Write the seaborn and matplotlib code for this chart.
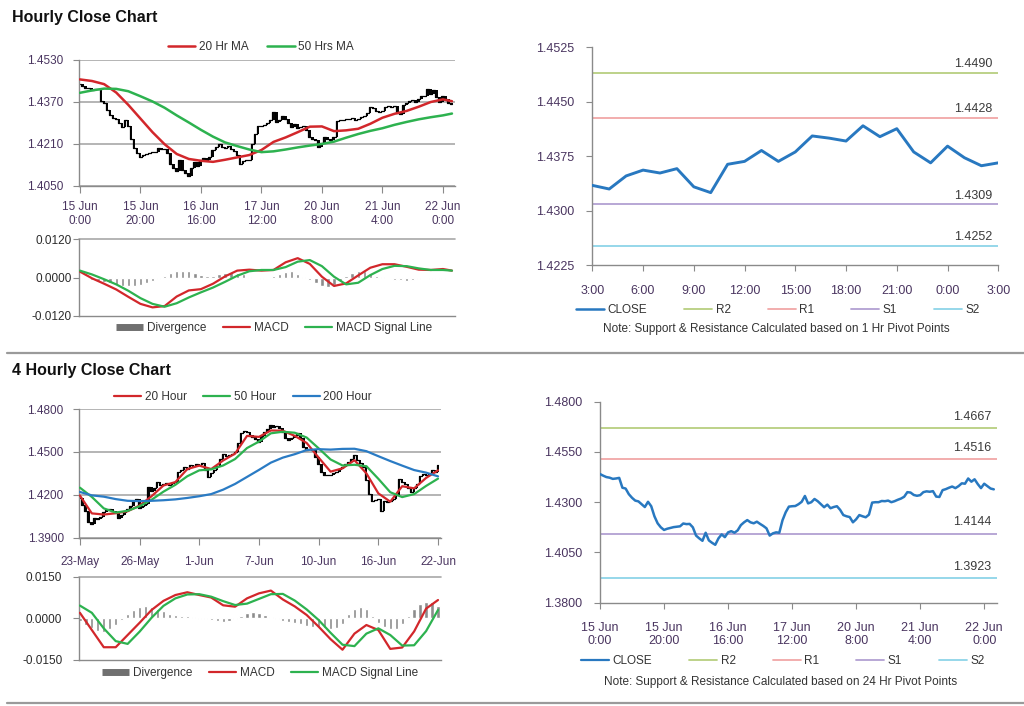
import numpy as np
import matplotlib
matplotlib.use("Agg")
import matplotlib.pyplot as plt
from matplotlib.lines import Line2D
import seaborn as sns

sns.set_style("white")
plt.rcParams["font.family"] = ["Liberation Sans", "DejaVu Sans"]

# ----------------------------
# Hourly closes, 15 Jun 0:00 -> 22 Jun ~3:00 (one value per bar)
# ----------------------------
hourly_close = [
    1.4440, 1.4432, 1.4425, 1.4422, 1.4416, 1.4418, 1.4421, 1.4372, 1.4368, 1.4340,
    1.4322, 1.4308, 1.4304, 1.4290, 1.4276, 1.4302, 1.4280, 1.4230, 1.4195, 1.4175,
    1.4162, 1.4168, 1.4172, 1.4176, 1.4178, 1.4180, 1.4194, 1.4191, 1.4192, 1.4175,
    1.4134, 1.4120, 1.4108, 1.4148, 1.4110, 1.4098, 1.4088, 1.4120, 1.4140, 1.4126,
    1.4150, 1.4156, 1.4148, 1.4160, 1.4186, 1.4200, 1.4211, 1.4200, 1.4195, 1.4203,
    1.4192, 1.4182, 1.4170, 1.4134, 1.4145, 1.4150, 1.4148, 1.4210, 1.4250, 1.4278,
    1.4280, 1.4281, 1.4290, 1.4302, 1.4331, 1.4294, 1.4300, 1.4316, 1.4305, 1.4290,
    1.4275, 1.4288, 1.4270, 1.4276, 1.4280, 1.4262, 1.4236, 1.4230, 1.4226, 1.4200,
    1.4215, 1.4236, 1.4230, 1.4225, 1.4238, 1.4298, 1.4300, 1.4300, 1.4306, 1.4305,
    1.4308, 1.4300, 1.4305, 1.4312, 1.4318, 1.4327, 1.4350, 1.4348, 1.4336, 1.4332,
    1.4335, 1.4350, 1.4354, 1.4352, 1.4355, 1.4328, 1.4326, 1.4360, 1.4365, 1.4372,
    1.4378, 1.4370, 1.4380, 1.4394, 1.4392, 1.4418, 1.4402, 1.4414, 1.4390, 1.4370,
    1.4392, 1.4380, 1.4368, 1.4364,
]
hourly_ticks = ["15 Jun\n0:00", "15 Jun\n20:00", "16 Jun\n16:00", "17 Jun\n12:00",
                "20 Jun\n8:00", "21 Jun\n4:00", "22 Jun\n0:00"]

# moving averages / MACD read every 4 bars
hourly_ma_bar = [0, 4, 8, 12, 16, 20, 24, 28, 32, 36, 40, 44, 48, 52, 56, 60,
                 64, 68, 72, 76, 80, 84, 88, 92, 96, 100, 104, 108, 112, 116, 120, 123]
ma20_hr = [1.4456, 1.4450, 1.4438, 1.4406, 1.4359, 1.4307, 1.4255, 1.4209, 1.4172, 1.4153,
           1.4146, 1.4142, 1.4150, 1.4159, 1.4168, 1.4187, 1.4218, 1.4235, 1.4255, 1.4276,
           1.4277, 1.4259, 1.4262, 1.4268, 1.4287, 1.4310, 1.4325, 1.4336, 1.4352, 1.4370,
           1.4380, 1.4373]
ma50_hr = [1.4405, 1.4414, 1.4421, 1.4420, 1.4411, 1.4392, 1.4372, 1.4348, 1.4319, 1.4292,
           1.4264, 1.4238, 1.4216, 1.4202, 1.4189, 1.4179, 1.4182, 1.4189, 1.4197, 1.4204,
           1.4210, 1.4219, 1.4234, 1.4248, 1.4260, 1.4270, 1.4283, 1.4294, 1.4304, 1.4312,
           1.4319, 1.4326]
macd_hr = [0.0019, -0.0002, -0.0019, -0.0037, -0.0060, -0.0082, -0.0093, -0.0089, -0.0059, -0.0040,
           -0.0036, -0.0019, 0.0004, 0.0022, 0.0025, 0.0022, 0.0024, 0.0048, 0.0061, 0.0043,
           0.0003, -0.0026, -0.0018, 0.0007, 0.0031, 0.0042, 0.0042, 0.0034, 0.0025, 0.0024,
           0.0027, 0.0022]
signal_hr = [0.0022, 0.0010, -0.0005, -0.0021, -0.0041, -0.0064, -0.0082, -0.0091, -0.0080, -0.0062,
             -0.0046, -0.0031, -0.0013, 0.0006, 0.0020, 0.0024, 0.0024, 0.0033, 0.0050, 0.0055,
             0.0036, 0.0003, -0.0021, -0.0016, 0.0008, 0.0027, 0.0037, 0.0036, 0.0029, 0.0024,
             0.0024, 0.0022]
# divergence read every 2 bars
diverg_hr = [-0.0003, -0.0005, -0.0006, -0.0010, -0.0014, -0.0018, -0.0022, -0.0025, -0.0027, -0.0026,
             -0.0022, -0.0016, -0.0010, -0.0004, 0.0004, 0.0014, 0.0020, 0.0022, 0.0020, 0.0014,
             0.0008, 0.0004, 0.0006, 0.0012, 0.0016, 0.0018, 0.0016, 0.0010, 0.0002, -0.0002,
             -0.0003, -0.0002, 0.0004, 0.0012, 0.0018, 0.0020, 0.0012, 0.0002, -0.0008, -0.0018,
             -0.0026, -0.0030, -0.0022, -0.0010, 0.0004, 0.0014, 0.0020, 0.0022, 0.0014, 0.0006,
             0.0002, -0.0002, -0.0006, -0.0008, -0.0010, -0.0006, -0.0003, -0.0002, -0.0003, -0.0004,
             -0.0003, -0.0002]

# ----------------------------
# 4-hourly closes, 23 May -> 22 Jun
# ----------------------------
h4_close = [
    1.4180, 1.4130, 1.4090, 1.4010, 1.3995, 1.4035, 1.4030, 1.4045, 1.4080, 1.4095,
    1.4100, 1.4090, 1.4078, 1.4040, 1.4060, 1.4078, 1.4100, 1.4120, 1.4160, 1.4172,
    1.4110, 1.4120, 1.4137, 1.4254, 1.4230, 1.4245, 1.4289, 1.4270, 1.4277, 1.4280,
    1.4272, 1.4285, 1.4290, 1.4359, 1.4370, 1.4395, 1.4380, 1.4406, 1.4400, 1.4418,
    1.4410, 1.4420, 1.4371, 1.4324, 1.4350, 1.4371, 1.4400, 1.4453, 1.4488, 1.4470,
    1.4480, 1.4488, 1.4500, 1.4559, 1.4629, 1.4645, 1.4641, 1.4620, 1.4605, 1.4590,
    1.4570, 1.4610, 1.4641, 1.4660, 1.4688, 1.4675, 1.4680, 1.4670, 1.4641, 1.4600,
    1.4582, 1.4594, 1.4610, 1.4629, 1.4600, 1.4535, 1.4512, 1.4520, 1.4516, 1.4465,
    1.4418, 1.4359, 1.4336, 1.4340, 1.4336, 1.4350, 1.4359, 1.4380, 1.4395, 1.4418,
    1.4430, 1.4453, 1.4477, 1.4441, 1.4420, 1.4395, 1.4301, 1.4207, 1.4160, 1.4165,
    1.4172, 1.4090, 1.4160, 1.4150, 1.4160, 1.4172, 1.4200, 1.4313, 1.4290, 1.4277,
    1.4250, 1.4219, 1.4250, 1.4277, 1.4330, 1.4348, 1.4340, 1.4348, 1.4371, 1.4360,
    1.4406,
]
h4_ticks = ["23-May", "26-May", "1-Jun", "7-Jun", "10-Jun", "16-Jun", "22-Jun"]

h4_ma_bar = [0, 4, 8, 12, 16, 20, 24, 28, 32, 36, 40, 44, 48, 52, 56, 60,
             64, 68, 72, 76, 80, 84, 88, 92, 96, 100, 104, 108, 112, 116, 120]
ma20_h4 = [1.4195, 1.4070, 1.4062, 1.4071, 1.4085, 1.4125, 1.4190, 1.4265, 1.4289, 1.4380,
           1.4404, 1.4380, 1.4440, 1.4488, 1.4612, 1.4605, 1.4650, 1.4648, 1.4612, 1.4562,
           1.4460, 1.4362, 1.4385, 1.4442, 1.4350, 1.4210, 1.4152, 1.4260, 1.4245, 1.4318,
           1.4371]
ma50_h4 = [1.4250, 1.4185, 1.4105, 1.4076, 1.4088, 1.4120, 1.4165, 1.4222, 1.4270, 1.4330,
           1.4371, 1.4378, 1.4405, 1.4450, 1.4527, 1.4572, 1.4630, 1.4641, 1.4634, 1.4600,
           1.4525, 1.4447, 1.4405, 1.4410, 1.4400, 1.4312, 1.4218, 1.4184, 1.4205, 1.4262,
           1.4313]
ma200_h4 = [1.4220, 1.4196, 1.4187, 1.4170, 1.4158, 1.4156, 1.4158, 1.4162, 1.4168, 1.4178,
            1.4190, 1.4205, 1.4236, 1.4276, 1.4325, 1.4374, 1.4425, 1.4460, 1.4484, 1.4513,
            1.4519, 1.4516, 1.4521, 1.4522, 1.4505, 1.4470, 1.4436, 1.4404, 1.4373, 1.4355,
            1.4329]
macd_h4 = [0.0020, -0.0042, -0.0104, -0.0104, -0.0060, -0.0016, 0.0030, 0.0063, 0.0084, 0.0094,
           0.0084, 0.0075, 0.0047, 0.0042, 0.0072, 0.0090, 0.0100, 0.0068, 0.0043, 0.0012,
           -0.0030, -0.0075, -0.0113, -0.0055, -0.0024, -0.0042, -0.0110, -0.0105, -0.0047, 0.0035,
           0.0066]
signal_h4 = [0.0046, 0.0020, -0.0036, -0.0082, -0.0092, -0.0048, 0.0002, 0.0045, 0.0072, 0.0086,
             0.0087, 0.0078, 0.0062, 0.0048, 0.0053, 0.0070, 0.0087, 0.0088, 0.0064, 0.0032,
             -0.0006, -0.0052, -0.0095, -0.0100, -0.0055, -0.0036, -0.0060, -0.0098, -0.0097, -0.0046,
             0.0030]
diverg_h4 = [-0.0010, -0.0025, -0.0035, -0.0045, -0.0050, -0.0040, -0.0025, -0.0005, 0.0015, 0.0030,
             0.0040, 0.0045, 0.0042, 0.0035, 0.0025, 0.0015, 0.0012, 0.0010, 0.0008, 0.0005,
             -0.0002, -0.0004, -0.0006, -0.0010, -0.0012, -0.0008, -0.0004, 0.0008, 0.0018, 0.0022,
             0.0020, 0.0012, 0.0004, -0.0004, -0.0008, -0.0012, -0.0018, -0.0022, -0.0026, -0.0030,
             -0.0032, -0.0036, -0.0040, -0.0035, -0.0020, 0.0015, 0.0035, 0.0042, 0.0035, 0.0010,
             -0.0015, -0.0030, -0.0040, -0.0038, -0.0020, 0.0010, 0.0035, 0.0050, 0.0058, 0.0060,
             0.0045]

# ----------------------------
# 1 Hr pivot chart (last 24 hours)
# ----------------------------
pivot1_close = [1.4335, 1.4330, 1.4348, 1.4356, 1.4352, 1.4358, 1.4333, 1.4325, 1.4364, 1.4368,
                1.4383, 1.4368, 1.4381, 1.4403, 1.4400, 1.4396, 1.4417, 1.4402, 1.4413, 1.4381,
                1.4366, 1.4389, 1.4373, 1.4362, 1.4366]
pivot1_ticks = ["3:00", "6:00", "9:00", "12:00", "15:00", "18:00", "21:00", "0:00", "3:00"]
pivot1_levels = {"R2": 1.4490, "R1": 1.4428, "S1": 1.4309, "S2": 1.4252}
pivot24_levels = {"R2": 1.4667, "R1": 1.4516, "S1": 1.4144, "S2": 1.3923}

# ----------------------------
# Styling
# ----------------------------
W, H = 1024, 706
RED = "#d2272b"
GREEN = "#2db24f"
BLUE = "#2a7bc4"
CLOSE_BLUE = "#2878c0"
GREY_BAR = "#8c8c8c"
AXIS = "#8a8a8a"
GRID = "#a8a8a8"
TICK_PRICE = "#4a3560"
TICK_MACD = "#2b2b2b"
LEVEL_COLORS = {"R2": "#b7cf80", "R1": "#f1a7a7", "S1": "#b2a0d2", "S2": "#8ed4e8"}

fig = plt.figure(figsize=(W / 100, H / 100), dpi=100)


def axes_px(left, top, right, bottom):
    return fig.add_axes([left / W, 1 - bottom / H, (right - left) / W, (bottom - top) / H])


def base_style(ax, size, color, xpad, ypad, xlen=5):
    sns.despine(ax=ax)
    for s in ["left", "bottom"]:
        ax.spines[s].set_color(AXIS)
        ax.spines[s].set_linewidth(1.0)
    ax.tick_params(axis="y", direction="out", length=4, width=0.8, color=AXIS,
                   labelsize=size, labelcolor=color, pad=ypad, left=True)
    ax.tick_params(axis="x", direction="out", length=xlen, width=0.8, color=AXIS,
                   labelsize=size, labelcolor=color, pad=xpad, bottom=True)
    ax.set_xlabel("")
    ax.set_ylabel("")
    ax.set_facecolor("white")


def price_bars(ax, close):
    # hourly bars: each bar spans previous close -> close, with the close trace on top
    x = np.arange(1, len(close))
    c = np.asarray(close)
    ax.vlines(x, np.minimum(c[:-1], c[1:]), np.maximum(c[:-1], c[1:]), color="black", lw=1.4, zorder=2)
    sns.lineplot(x=np.arange(len(close)), y=close, ax=ax, color="black", lw=0.9,
                 drawstyle="steps-mid", legend=False, zorder=2)


def fmt4(vals):
    return [f"{v:.4f}" for v in vals]


def div_handle():
    return Line2D([], [], color="#707070", lw=5, solid_capstyle="butt", label="Divergence")


# ----------------------------
# 1) Hourly close chart (top left)
# ----------------------------
ax1 = axes_px(79, 60, 455, 186)
price_bars(ax1, hourly_close)
sns.lineplot(x=hourly_ma_bar, y=ma20_hr, ax=ax1, color=RED, lw=1.8, legend=False, zorder=3)
sns.lineplot(x=hourly_ma_bar, y=ma50_hr, ax=ax1, color=GREEN, lw=1.8, legend=False, zorder=3)
ax1.set_xlim(-0.3, 124)
ax1.set_ylim(1.4050, 1.4530)
yt = [1.4050, 1.4210, 1.4370, 1.4530]
ax1.set_yticks(yt, fmt4(yt))
ax1.set_xticks(range(0, 121, 20), hourly_ticks, linespacing=1.15)
ax1.yaxis.grid(True, color=GRID, lw=1.2)
ax1.set_axisbelow(True)
base_style(ax1, 8.5, TICK_PRICE, 6, 7)

fig.legend(handles=[Line2D([], [], color=RED, lw=1.8, label="20 Hr MA"),
                    Line2D([], [], color=GREEN, lw=1.8, label="50 Hrs MA")],
           loc="center", bbox_to_anchor=(261 / W, 1 - 47 / H), ncol=2, frameon=False,
           fontsize=8.5, handlelength=2.3, handletextpad=0.3, columnspacing=1.6,
           labelcolor="#333333")

# MACD (hourly)
ax2 = axes_px(79, 239.3, 455, 316)
ax2.bar(np.arange(0, 2 * len(diverg_hr), 2), diverg_hr, width=1.1, color=GREY_BAR, zorder=2)
sns.lineplot(x=hourly_ma_bar, y=macd_hr, ax=ax2, color=RED, lw=1.6, legend=False, zorder=3)
sns.lineplot(x=hourly_ma_bar, y=signal_hr, ax=ax2, color=GREEN, lw=1.6, legend=False, zorder=3)
ax2.set_xlim(-0.3, 124)
ax2.set_ylim(-0.012, 0.012)
yt = [-0.012, 0.0, 0.012]
ax2.set_yticks(yt, fmt4(yt))
ax2.set_xticks([])
ax2.axhline(0.012, color=GRID, lw=1.2, clip_on=False, zorder=1)
base_style(ax2, 8.5, TICK_MACD, 4, 1, xlen=0)

fig.legend(handles=[div_handle(),
                    Line2D([], [], color=RED, lw=1.6, label="MACD"),
                    Line2D([], [], color=GREEN, lw=1.6, label="MACD Signal Line")],
           loc="center", bbox_to_anchor=(274 / W, 1 - 328 / H), ncol=3, frameon=False,
           fontsize=8.5, handlelength=2.3, handletextpad=0.3, columnspacing=1.4,
           labelcolor="#333333")


# ----------------------------
# Pivot charts (right side)
# ----------------------------
def pivot_chart(ax, x, close, levels, lw_close, label_dy):
    for name, val in levels.items():
        ax.axhline(val, color=LEVEL_COLORS[name], lw=1.3, zorder=1)
        ax.annotate(f"{val:.4f}", xy=(1.0, val), xycoords=("axes fraction", "data"),
                    xytext=(-4, label_dy), textcoords="offset points",
                    ha="right", va="center", fontsize=9, color="#3a3a3a")
    sns.lineplot(x=x, y=close, ax=ax, color=CLOSE_BLUE, lw=lw_close, legend=False, zorder=3)


def pivot_legend(cx, cy, lw_close):
    handles = [Line2D([], [], color=CLOSE_BLUE, lw=lw_close, label="CLOSE")]
    handles += [Line2D([], [], color=LEVEL_COLORS[k], lw=1.3, label=k) for k in ["R2", "R1", "S1", "S2"]]
    fig.legend(handles=handles, loc="center", bbox_to_anchor=(cx / W, 1 - cy / H), ncol=5,
               frameon=False, fontsize=8.5, handlelength=2.4, handletextpad=0.3,
               columnspacing=3.1, labelcolor="#333333")


ax3 = axes_px(592.3, 47.3, 998.3, 265.3)
pivot_chart(ax3, np.arange(len(pivot1_close)), pivot1_close, pivot1_levels, 2.1, 6)
ax3.set_xlim(0, 24)
ax3.set_ylim(1.4225, 1.4525)
yt = [1.4225, 1.4300, 1.4375, 1.4450, 1.4525]
ax3.set_yticks(yt, fmt4(yt))
ax3.set_xticks(range(0, 25, 3), pivot1_ticks)
base_style(ax3, 9, TICK_PRICE, 10, 9, xlen=4)
pivot_legend(778, 310, 1.8)
fig.text(776 / W, 1 - 329 / H, "Note: Support & Resistance Calculated based on 1 Hr Pivot Points",
         ha="center", va="center", fontsize=8.5, color="#333333")

ax6 = axes_px(600, 401.7, 997, 602.7)
pivot_chart(ax6, np.arange(len(hourly_close)), hourly_close, pivot24_levels, 1.8, 8)
ax6.set_xlim(0, 124)
ax6.set_ylim(1.3800, 1.4800)
yt = [1.3800, 1.4050, 1.4300, 1.4550, 1.4800]
ax6.set_yticks(yt, fmt4(yt))
ax6.set_xticks(range(0, 121, 20), hourly_ticks, linespacing=1.15)
base_style(ax6, 9, TICK_PRICE, 10, 9, xlen=4)
pivot_legend(783, 661, 1.6)
fig.text(781 / W, 1 - 682 / H, "Note: Support & Resistance Calculated based on 24 Hr Pivot Points",
         ha="center", va="center", fontsize=8.5, color="#333333")

# ----------------------------
# 2) 4 hourly close chart (bottom left)
# ----------------------------
ax4 = axes_px(79, 409, 441, 537.7)
price_bars(ax4, h4_close)
sns.lineplot(x=h4_ma_bar, y=ma20_h4, ax=ax4, color=RED, lw=1.6, legend=False, zorder=3)
sns.lineplot(x=h4_ma_bar, y=ma50_h4, ax=ax4, color=GREEN, lw=1.6, legend=False, zorder=3)
sns.lineplot(x=h4_ma_bar, y=ma200_h4, ax=ax4, color=BLUE, lw=1.6, legend=False, zorder=3)
ax4.set_xlim(-0.3, 121)
ax4.set_ylim(1.3900, 1.4800)
yt = [1.3900, 1.4200, 1.4500, 1.4800]
ax4.set_yticks(yt, fmt4(yt))
ax4.set_xticks(range(0, 121, 20), h4_ticks)
ax4.yaxis.grid(True, color=GRID, lw=1.2)
ax4.set_axisbelow(True)
base_style(ax4, 8.5, TICK_PRICE, 8, 7)

fig.legend(handles=[Line2D([], [], color=RED, lw=1.6, label="20 Hour"),
                    Line2D([], [], color=GREEN, lw=1.6, label="50 Hour"),
                    Line2D([], [], color=BLUE, lw=1.6, label="200 Hour")],
           loc="center", bbox_to_anchor=(243 / W, 1 - 397 / H), ncol=3, frameon=False,
           fontsize=8.5, handlelength=2.3, handletextpad=0.3, columnspacing=1.4,
           labelcolor="#333333")

ax5 = axes_px(79, 576.7, 441, 660)
ax5.bar(np.arange(0, 2 * len(diverg_h4), 2), diverg_h4, width=1.1, color=GREY_BAR, zorder=2)
sns.lineplot(x=h4_ma_bar, y=macd_h4, ax=ax5, color=RED, lw=1.6, legend=False, zorder=3)
sns.lineplot(x=h4_ma_bar, y=signal_h4, ax=ax5, color=GREEN, lw=1.6, legend=False, zorder=3)
ax5.set_xlim(-0.3, 121)
ax5.set_ylim(-0.015, 0.015)
yt = [-0.015, 0.0, 0.015]
ax5.set_yticks(yt, fmt4(yt))
ax5.set_xticks([])
ax5.axhline(0.015, color=GRID, lw=1.2, clip_on=False, zorder=1)
base_style(ax5, 8.5, TICK_MACD, 4, 8, xlen=0)

fig.legend(handles=[div_handle(),
                    Line2D([], [], color=RED, lw=1.6, label="MACD"),
                    Line2D([], [], color=GREEN, lw=1.6, label="MACD Signal Line")],
           loc="center", bbox_to_anchor=(260 / W, 1 - 673 / H), ncol=3, frameon=False,
           fontsize=8.5, handlelength=2.3, handletextpad=0.3, columnspacing=1.4,
           labelcolor="#333333")

# ----------------------------
# Titles & separators
# ----------------------------
fig.text(12 / W, 1 - 22 / H, "Hourly Close Chart", fontsize=11.5, fontweight="bold",
         va="baseline", color="#111111")
fig.text(12 / W, 1 - 375 / H, "4 Hourly Close Chart", fontsize=11.5, fontweight="bold",
         va="baseline", color="#111111")
for y in [353, 703]:
    fig.add_artist(Line2D([7 / W, 1.0], [1 - y / H, 1 - y / H], color="#9a9a9a", lw=1.6))

fig.savefig("out.png", dpi=100)
plt.close()
